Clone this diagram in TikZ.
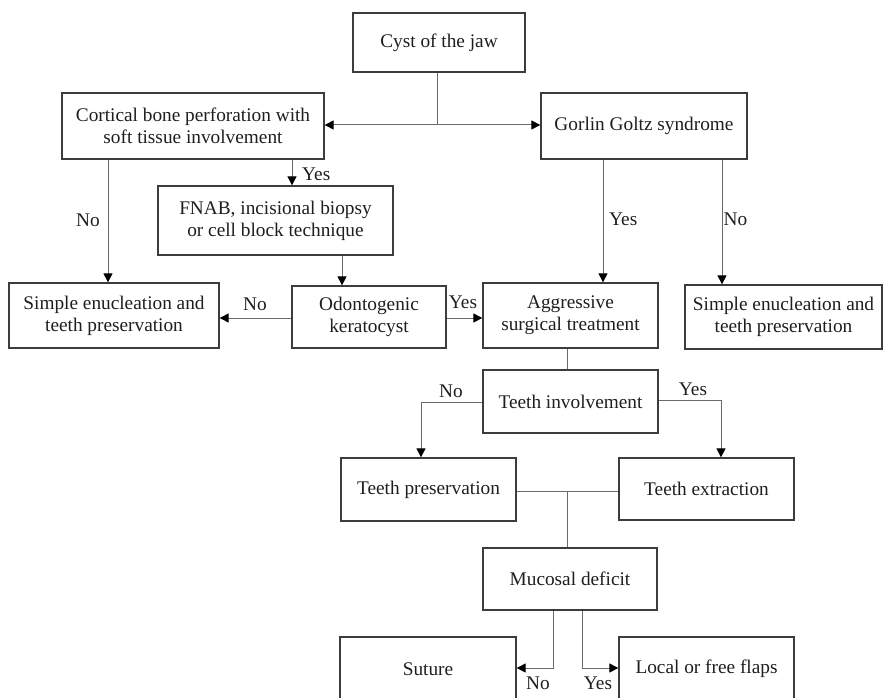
\documentclass[tikz,border=0pt]{standalone}
\usepackage{fontspec}
\setmainfont{Liberation Serif}
\usetikzlibrary{arrows.meta}
\definecolor{boxc}{HTML}{3C3C3C}
\definecolor{linec}{HTML}{6A6A6A}
\definecolor{txtc}{HTML}{1E1E1E}
\begin{document}
\begin{tikzpicture}[x=1pt,y=-1pt,
  box/.style={draw=boxc, line width=1.3pt, inner sep=0pt, align=center, text=txtc,
    font=\fontsize{19.3}{22}\selectfont},
  conn/.style={draw=linec, line width=1pt},
  arr/.style={conn, -{Triangle[length=9pt,width=9pt,color=black]}},
  lbl/.style={text=txtc, inner sep=0pt, font=\fontsize{19.3}{22}\selectfont}]
\useasboundingbox (0,0) rectangle (883,698);
\begin{scope}
\clip (0,0) rectangle (883,698);
% boxes
\node[box, minimum width=172pt, minimum height=59pt] (cyst) at (439,42.5) {Cyst of the jaw};
\node[box, minimum width=262pt, minimum height=66pt] (cort) at (193,126) {Cortical bone perforation with\\soft tissue involvement};
\node[box, minimum width=206pt, minimum height=66pt] (gorlin) at (644,126) {Gorlin Goltz syndrome};
\node[box, minimum width=235pt, minimum height=69pt] (fnab) at (275.5,220.5) {FNAB, incisional biopsy\\or cell block technique};
\node[box, minimum width=210pt, minimum height=65pt] (simpL) at (114,315.5) {Simple enucleation and\\teeth preservation};
\node[box, minimum width=154pt, minimum height=62pt] (odon) at (369,317) {Odontogenic\\keratocyst};
\node[box, minimum width=175pt, minimum height=65pt] (aggr) at (570.5,315.5) {Aggressive\\surgical treatment};
\node[box, minimum width=197pt, minimum height=64pt] (simpR) at (783.5,317) {Simple enucleation and\\teeth preservation};
\node[box, minimum width=175pt, minimum height=63pt] (tinv) at (570.5,401.5) {Teeth involvement};
\node[box, minimum width=175pt, minimum height=63pt] (tpres) at (428.5,489.5) {Teeth preservation};
\node[box, minimum width=175pt, minimum height=62pt] (text) at (706.5,489) {Teeth extraction};
\node[box, minimum width=174pt, minimum height=62pt] (muc) at (570,579) {Mucosal deficit};
\node[box, minimum width=176pt, minimum height=64pt] (sut) at (428,669) {Suture};
\node[box, minimum width=175pt, minimum height=64pt] (loc) at (706.5,669) {Local or free flaps};
% junction coordinates
\coordinate (j1) at (437,125);
\coordinate (xyes) at (292,0);
\coordinate (xno) at (108,0);
\coordinate (xfo) at (342,0);
\coordinate (ygl) at (0,318);
\coordinate (xgy) at (603,0);
\coordinate (xgn) at (722,0);
\coordinate (xag) at (567,0);
\coordinate (tnL) at (421,402);
\coordinate (tyR) at (721,400);
\coordinate (j2) at (567,491);
\coordinate (mn) at (553,668);
\coordinate (my) at (582,668);
% connectors
\draw[conn] (cyst.south -| j1) -- (j1);
\draw[arr] (j1) -- (j1 -| cort.east);
\draw[arr] (j1) -- (j1 -| gorlin.west);
\draw[arr] (cort.south -| xyes) -- (fnab.north -| xyes);
\draw[arr] (cort.south -| xno) -- (simpL.north -| xno);
\draw[arr] (fnab.south -| xfo) -- (odon.north -| xfo);
\draw[arr] (odon.west |- ygl) -- (simpL.east |- ygl);
\draw[arr] (odon.east |- ygl) -- (aggr.west |- ygl);
\draw[arr] (gorlin.south -| xgy) -- (aggr.north -| xgy);
\draw[arr] (gorlin.south -| xgn) -- (simpR.north -| xgn);
\draw[conn] (aggr.south -| xag) -- (tinv.north -| xag);
\draw[arr] (tinv.west |- tnL) -- (tnL) -- (tpres.north -| tnL);
\draw[arr] (tinv.east |- tyR) -- (tyR) -- (text.north -| tyR);
\draw[conn] (tpres.east |- j2) -- (text.west |- j2);
\draw[conn] (j2) -- (muc.north -| j2);
\draw[arr] (muc.south -| mn) -- (mn) -- (sut.east |- mn);
\draw[arr] (muc.south -| my) -- (my) -- (loc.west |- my);
% labels
\node[lbl, anchor=west] (l1) at (302,174) {Yes};
\node[lbl] (l2) at (88,220) {No};
\node[lbl] (l3) at (255,304) {No};
\node[lbl] (l4) at (463,302) {Yes};
\node[lbl, anchor=west] (l5) at (609,219) {Yes};
\node[lbl, anchor=west] (l6) at (723.5,219) {No};
\node[lbl] (l7) at (451,391) {No};
\node[lbl] (l8) at (693,389) {Yes};
\node[lbl] (l9) at (538,683) {No};
\node[lbl] (l10) at (598,683) {Yes};
\end{scope}
\end{tikzpicture}
\end{document}
